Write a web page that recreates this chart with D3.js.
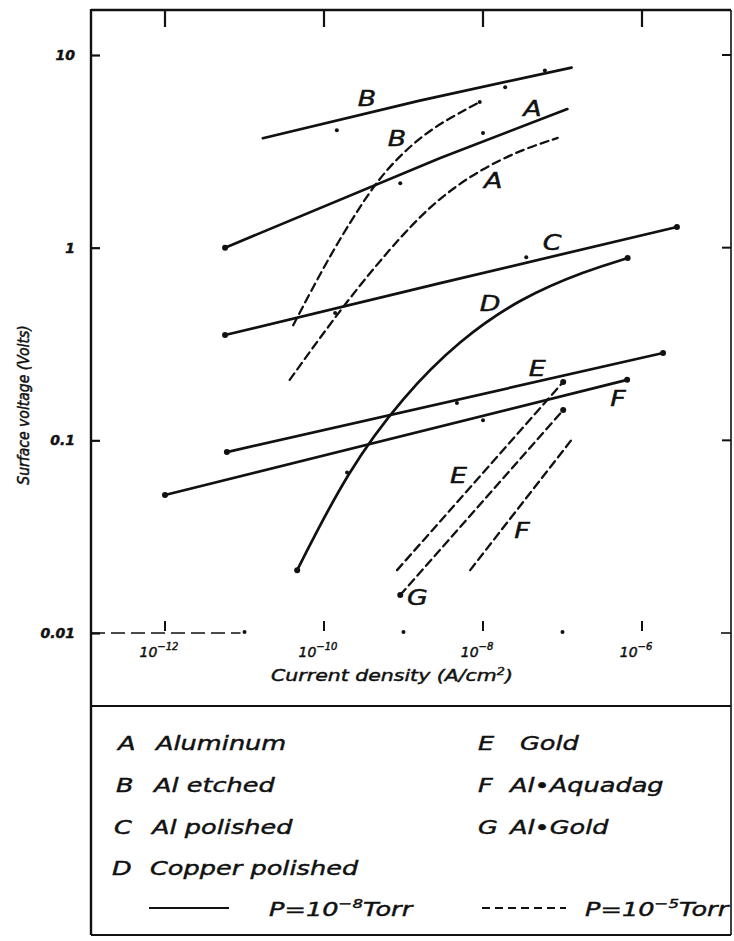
<!DOCTYPE html>
<html><head><meta charset="utf-8">
<script src="https://cdn.jsdelivr.net/npm/d3@7"></script>
<style>
body{margin:0;background:#fff}
svg{display:block}
text{font-family:"DejaVu Sans",sans-serif;font-style:italic;fill:#111;stroke:#111;stroke-width:0.45px}
</style></head><body>
<script>
// Axis ticks: current density (A/cm^2) and surface voltage (V)
const xMajorTicks = [1e-12, 1e-10, 1e-8, 1e-6];
const xMajorExps = ["\u221212", "\u221210", "\u22128", "\u22126"];
const xMinorTicks = [1e-11, 1e-9, 1e-7];
const yTicks = [0.01, 0.1, 1, 10];
const yTickLabels = ["0.01", "0.1", "1", "10"];

// P = 1e-8 Torr (solid curves): [current density, surface voltage]
const aluminumHV = [[5.7e-12, 1.0], [2.9e-9, 2.92], [1.15e-7, 5.24]];
const alEtchedHV = [[1.7e-11, 3.7], [1.6e-9, 5.8], [1.3e-7, 8.6]];
const alPolishedHV = [[5.7e-12, 0.352], [2.9e-9, 0.655], [2.75e-6, 1.28]];
const copperHV = [[4.6e-11, 0.0212], [2.0e-10, 0.07], [1.0e-9, 0.17],
  [5.0e-9, 0.33], [3.0e-8, 0.55], [2.0e-7, 0.76], [6.6e-7, 0.883]];
const goldHV = [[6.0e-12, 0.0869], [1.84e-6, 0.284]];
const aquadagHV = [[1.0e-12, 0.052], [6.5e-7, 0.206]];

// P = 1e-5 Torr (dashed curves)
const aluminumLV = [[3.7e-11, 0.206], [1.95e-10, 0.534], [9.9e-10, 1.19], [2.9e-9, 1.83],
  [9.1e-9, 2.53], [2.95e-8, 3.21], [8.7e-8, 3.71]];
const alEtchedLV = [[4.1e-11, 0.396], [1.1e-10, 0.863], [2.8e-10, 1.63], [5.9e-10, 2.53],
  [1.6e-9, 3.75], [3.8e-9, 4.71], [9.1e-9, 5.7]];
const goldLV = [[8.3e-10, 0.0212], [1.02e-7, 0.201]];
const alGoldLV = [[9.1e-10, 0.01573], [1.02e-7, 0.1435]];
const aquadagLV = [[6.9e-9, 0.0212], [1.35e-7, 0.1027]];

// Individual readings marked along the curves
const readingsJ = [1.45e-10, 1.9e-8, 6.0e-8, 9.1e-10, 1.0e-8, 1.38e-10, 3.5e-8, 1.95e-10, 4.7e-9, 1.0e-8, 9.1e-9];
const readingsV = [4.07, 6.8, 8.3, 2.16, 3.94, 0.458, 0.893, 0.068, 0.156, 0.127, 5.7];

const series = [
  {id: "A", pts: aluminumHV, dashed: false, endDots: [0], smooth: false},
  {id: "B", pts: alEtchedHV, dashed: false, endDots: [], smooth: false},
  {id: "C", pts: alPolishedHV, dashed: false, endDots: [0, 1], smooth: false},
  {id: "D", pts: copperHV, dashed: false, endDots: [0, 1], smooth: true},
  {id: "E", pts: goldHV, dashed: false, endDots: [0, 1], smooth: false},
  {id: "F", pts: aquadagHV, dashed: false, endDots: [0, 1], smooth: false},
  {id: "A", pts: aluminumLV, dashed: true, endDots: [], smooth: true},
  {id: "B", pts: alEtchedLV, dashed: true, endDots: [], smooth: true},
  {id: "E", pts: goldLV, dashed: true, endDots: [1], smooth: false},
  {id: "G", pts: alGoldLV, dashed: true, endDots: [0, 1], smooth: false},
  {id: "F", pts: aquadagLV, dashed: true, endDots: [], smooth: false}
];

// Curve letters, anchored in data units
const curveLetters = ["B", "B", "A", "A", "C", "D", "E", "F", "E", "F", "G"];
const curveLetterAt = [[3.47e-10, 5.97], [8.3e-10, 3.71], [4.2e-8, 5.3], [1.34e-8, 2.24],
  [7.4e-8, 1.07], [1.23e-8, 0.516], [4.8e-8, 0.237], [5.0e-7, 0.166],
  [4.9e-9, 0.066], [3.1e-8, 0.0343], [1.5e-9, 0.0154]];

// Legend entries
const legendLeft = [["A", "Aluminum"], ["B", "Al etched"], ["C", "Al polished"], ["D", "Copper polished"]];
const legendRight = [["E", "Gold"], ["F", "Al\u2022Aquadag"], ["G", "Al\u2022Gold"]];

const W = 734, H = 941;
const frame = {left: 91, right: 731, top: 10, split: 706, bottom: 935};
const sx = 1.28; // wide lettering

const svg = d3.select("body").append("svg").attr("width", W).attr("height", H);

const x = d3.scaleLog().domain([1e-12, 1e-6]).range([165, 642]);
const y = d3.scaleLog().domain([0.01, 10]).range([633, 55]);

const ink = "#111";

// Frame
const g = svg.append("g").attr("stroke", ink).attr("fill", "none");
g.append("line").attr("x1", frame.left).attr("x2", frame.left).attr("y1", frame.top - 1).attr("y2", frame.bottom).attr("stroke-width", 2.4);
g.append("line").attr("x1", frame.left).attr("x2", frame.right).attr("y1", frame.top).attr("y2", frame.top).attr("stroke-width", 2.4);
g.append("line").attr("x1", frame.right).attr("x2", frame.right).attr("y1", frame.top).attr("y2", frame.bottom).attr("stroke-width", 1.6);
g.append("line").attr("x1", frame.left).attr("x2", frame.right).attr("y1", frame.split).attr("y2", frame.split).attr("stroke-width", 2.2);
g.append("line").attr("x1", frame.left).attr("x2", frame.right).attr("y1", frame.bottom).attr("y2", frame.bottom).attr("stroke-width", 2.2);

// Left axis ticks and labels
const yAxis = d3.axisLeft(y).tickValues(yTicks).tickSize(-9).tickPadding(16)
  .tickFormat((d, i) => yTickLabels[i]);
const ya = svg.append("g").attr("transform", `translate(${frame.left},0)`).call(yAxis);
ya.select(".domain").remove();
ya.selectAll(".tick line").attr("stroke", ink).attr("stroke-width", 2.2);
ya.selectAll(".tick text").attr("font-size", 14).attr("font-weight", "bold")
  .attr("font-family", "DejaVu Sans").attr("font-style", "italic").attr("fill", ink);

// Right-side ticks
svg.append("g").selectAll("line").data(yTicks.slice(1)).join("line")
  .attr("x1", frame.right).attr("x2", frame.right - 9)
  .attr("y1", d => y(d)).attr("y2", d => y(d)).attr("stroke", ink).attr("stroke-width", 2);

// Top ticks
svg.append("g").selectAll("line").data(xMajorTicks).join("line")
  .attr("x1", d => x(d)).attr("x2", d => x(d)).attr("y1", frame.top).attr("y2", frame.top + 17)
  .attr("stroke", ink).attr("stroke-width", 2.2);

// Bottom axis: short base rule, major ticks, minor dots
const y0 = y(0.01);
svg.append("line").attr("x1", frame.left).attr("x2", x(1e-11) - 4).attr("y1", y0).attr("y2", y0)
  .attr("stroke", ink).attr("stroke-width", 1.6).attr("stroke-dasharray", "14,6");
svg.append("line").attr("x1", frame.right - 10).attr("x2", frame.right).attr("y1", y0).attr("y2", y0)
  .attr("stroke", ink).attr("stroke-width", 1.6);
svg.append("g").selectAll("line").data(xMajorTicks).join("line")
  .attr("x1", d => x(d)).attr("x2", d => x(d)).attr("y1", y0 - 12).attr("y2", y0 - 2)
  .attr("stroke", ink).attr("stroke-width", 2);
svg.append("g").selectAll("circle").data(xMinorTicks).join("circle")
  .attr("cx", d => x(d)).attr("cy", y0 - 1).attr("r", 2).attr("fill", ink);

const xl = svg.append("g").selectAll("text").data(xMajorTicks).join("text")
  .attr("transform", d => `translate(${x(d) - 6},${y0 + 24})`)
  .attr("font-size", 14).attr("text-anchor", "middle");
xl.append("tspan").text("10");
xl.append("tspan").attr("dy", -7).attr("font-size", 10).text((d, i) => xMajorExps[i]);

// Axis titles
const xt = svg.append("text").attr("transform", `translate(392,681) scale(${sx},1)`)
  .attr("text-anchor", "middle").attr("font-size", 16);
xt.append("tspan").text("Current  density (A/cm");
xt.append("tspan").attr("dy", -6).attr("font-size", 10).text("2");
xt.append("tspan").attr("dy", 6).text(")");

svg.append("text").attr("transform", "translate(29,405) rotate(-90) scale(1,1.15)")
  .attr("text-anchor", "middle").attr("font-size", 14)
  .text("Surface voltage (Volts)");

// Curves
const straight = d3.line().x(d => x(d[0])).y(d => y(d[1]));
const smooth = d3.line().x(d => x(d[0])).y(d => y(d[1])).curve(d3.curveBasis);
const curves = svg.append("g");
series.forEach(s => {
  curves.append("path").attr("d", (s.smooth ? smooth : straight)(s.pts)).attr("fill", "none").attr("stroke", ink)
    .attr("stroke-width", s.dashed ? 2.3 : 2.7)
    .attr("stroke-dasharray", s.dashed ? "8,5" : null)
    .attr("stroke-linecap", "round");
  s.endDots.forEach(k => {
    const p = k === 0 ? s.pts[0] : s.pts[s.pts.length - 1];
    curves.append("circle").attr("cx", x(p[0])).attr("cy", y(p[1])).attr("r", 3).attr("fill", ink);
  });
});
curves.selectAll("circle.reading").data(readingsJ).join("circle").attr("class", "reading")
  .attr("cx", d => x(d)).attr("cy", (d, i) => y(readingsV[i])).attr("r", 2).attr("fill", ink);

// Curve letters
svg.append("g").selectAll("text").data(curveLetters).join("text")
  .attr("transform", (d, i) => `translate(${x(curveLetterAt[i][0])},${y(curveLetterAt[i][1]) + 8}) scale(${sx},1)`)
  .attr("text-anchor", "middle").attr("font-size", 21).text(d => d);

// Legend
const rowY = [750, 792, 834, 875];
const leg = svg.append("g").attr("font-size", 20);
legendLeft.forEach((r, i) => {
  leg.append("text").attr("transform", `translate(${118 - i * 2},${rowY[i]}) scale(${sx},1)`).text(r[0]);
  leg.append("text").attr("transform", `translate(${156 - i * 2},${rowY[i]}) scale(${sx},1)`).text(r[1]);
});
legendRight.forEach((r, i) => {
  leg.append("text").attr("transform", `translate(${478},${rowY[i]}) scale(${sx},1)`).text(r[0]);
  leg.append("text").attr("transform", `translate(${i === 0 ? 520 : 510},${rowY[i]}) scale(${sx},1)`).text(r[1]);
});
const ly = 908;
leg.append("line").attr("x1", 149).attr("x2", 229).attr("y1", ly).attr("y2", ly).attr("stroke", ink).attr("stroke-width", 2.2);
leg.append("line").attr("x1", 482).attr("x2", 566).attr("y1", ly).attr("y2", ly).attr("stroke", ink)
  .attr("stroke-width", 2.2).attr("stroke-dasharray", "8,5");
[[269, "P=10", "\u22128", "Torr"], [585, "P=10", "\u22125", "Torr"]].forEach(p => {
  const t = leg.append("text").attr("transform", `translate(${p[0]},${ly + 8}) scale(${sx},1)`);
  t.append("tspan").text(p[1]);
  t.append("tspan").attr("dy", -8).attr("font-size", 13).text(p[2]);
  t.append("tspan").attr("dy", 8).text(p[3]);
});
</script>
</body></html>
